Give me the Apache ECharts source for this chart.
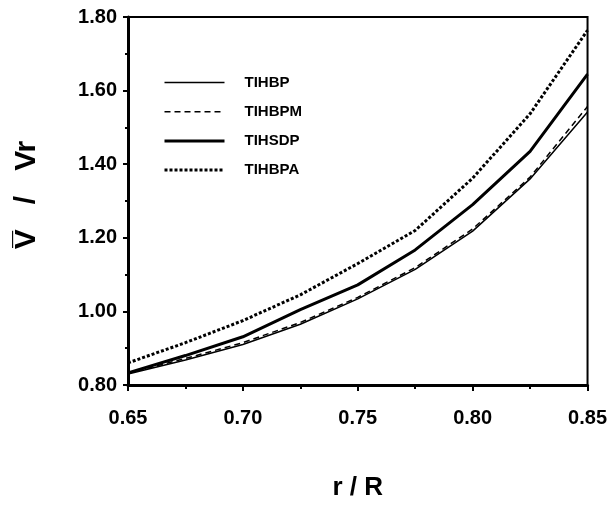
<!DOCTYPE html>
<html>
<head>
<meta charset="utf-8">
<script src="https://cdn.jsdelivr.net/npm/echarts@6/dist/echarts.min.js"></script>
<style>
  html, body { margin: 0; padding: 0; background: #fff; }
  #main { width: 610px; height: 516px; }
</style>
</head>
<body>
<div id="main"></div>
<script>
// r/R positions
const rR = [0.65, 0.675, 0.70, 0.725, 0.75, 0.775, 0.80, 0.825, 0.85];

// V/Vr for each model
const tihbp  = [0.830, 0.868, 0.910, 0.965, 1.034, 1.114, 1.218, 1.360, 1.542];
const tihbpm = [0.832, 0.872, 0.915, 0.970, 1.038, 1.119, 1.224, 1.365, 1.557];
const tihsdp = [0.833, 0.880, 0.931, 1.005, 1.072, 1.167, 1.290, 1.435, 1.645];
const tihbpa = [0.860, 0.915, 0.975, 1.045, 1.130, 1.220, 1.362, 1.537, 1.764];

const names = ['TIHBP', 'TIHBPM', 'TIHSDP', 'TIHBPA'];
const widths = [1.5, 1.5, 3, 3];

const font = "'Liberation Sans Narrow', 'Liberation Sans', Arial, sans-serif";

function pairs(ys) {
  return rR.map((x, i) => [x, ys[i]]);
}

const chart = echarts.init(document.getElementById('main'), null, { renderer: 'canvas' });

const option = {
  backgroundColor: '#ffffff',
  animation: false,
  grid: {
    left: 128, right: 21, top: 17, bottom: 131,
    show: true, borderColor: '#000', borderWidth: 2
  },
  legend: {
    orient: 'vertical',
    left: 158, top: 70,
    itemWidth: 60, itemHeight: 12, itemGap: 14.2,
    data: names.map((n, i) => ({ name: n, lineStyle: { width: widths[i] } })),
    itemStyle: { opacity: 0 },
    textStyle: {
      fontFamily: font, fontWeight: 'bold', fontSize: 15, color: '#000',
      padding: [0, 0, 0, 15]
    }
  },
  xAxis: {
    type: 'value',
    min: 0.65, max: 0.85, interval: 0.05,
    name: 'r / R',
    nameLocation: 'middle',
    nameGap: 90,
    nameTextStyle: { fontFamily: font, fontWeight: 'bold', fontSize: 26, color: '#000' },
    axisLine: { show: true, lineStyle: { color: '#000', width: 3 } },
    axisTick: { show: true, inside: false, length: 6, lineStyle: { color: '#000', width: 2 } },
    minorTick: { show: true, splitNumber: 2, length: 4, lineStyle: { color: '#000', width: 2 } },
    splitLine: { show: false },
    axisLabel: {
      margin: 23,
      fontFamily: font, fontWeight: 'bold', fontSize: 20, color: '#000',
      formatter: v => v.toFixed(2)
    }
  },
  yAxis: {
    type: 'value',
    min: 0.8, max: 1.8, interval: 0.2,
    name: 'V\u0305   /   Vr',
    nameLocation: 'middle',
    nameRotate: 90,
    nameGap: 86,
    nameTextStyle: {
      fontFamily: "'Liberation Sans', Arial, sans-serif", fontWeight: 'bold', fontSize: 30, color: '#000',
      padding: [0, 0, 0, 12]
    },
    axisLine: { show: true, lineStyle: { color: '#000', width: 3 } },
    axisTick: { show: true, inside: false, length: 5, lineStyle: { color: '#000', width: 2 } },
    minorTick: { show: true, splitNumber: 2, length: 3, lineStyle: { color: '#000', width: 2 } },
    splitLine: { show: false },
    axisLabel: {
      margin: 11,
      fontFamily: font, fontWeight: 'bold', fontSize: 20, color: '#000',
      formatter: v => v.toFixed(2)
    }
  },
  series: [
    {
      name: 'TIHBP', type: 'line', data: pairs(tihbp), symbol: 'none',
      lineStyle: { color: '#000', width: widths[0], type: 'solid' },
      itemStyle: { color: '#000' }
    },
    {
      name: 'TIHBPM', type: 'line', data: pairs(tihbpm), symbol: 'none',
      lineStyle: { color: '#000', width: widths[1], type: [6, 4] },
      itemStyle: { color: '#000' }
    },
    {
      name: 'TIHSDP', type: 'line', data: pairs(tihsdp), symbol: 'none',
      lineStyle: { color: '#000', width: widths[2], type: 'solid' },
      itemStyle: { color: '#000' }
    },
    {
      name: 'TIHBPA', type: 'line', data: pairs(tihbpa), symbol: 'none',
      lineStyle: { color: '#000', width: widths[3], type: [3, 2] },
      itemStyle: { color: '#000' }
    }
  ]
};

chart.setOption(option);
</script>
</body>
</html>
